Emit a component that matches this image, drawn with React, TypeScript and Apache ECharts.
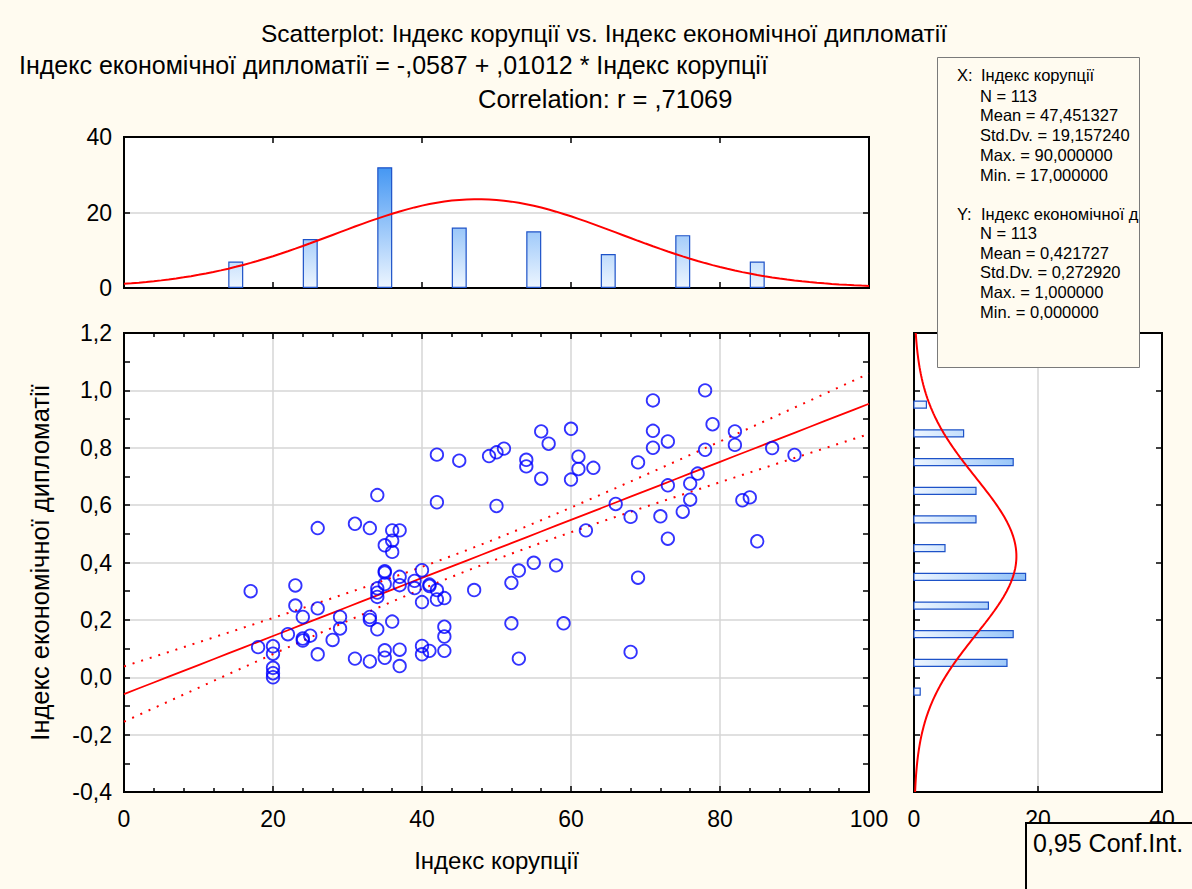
import React, { useEffect, useRef } from 'react';
import * as echarts from 'echarts';

// ---------- data ----------
const corruptionIndex: number[] = [
  17, 18, 20, 20, 20, 20, 20, 22, 23, 23, 24, 24, 24, 25, 26, 26, 26, 28, 29, 29,
  31, 31, 33, 33, 33, 33, 34, 34, 34, 34, 34, 35, 35, 35, 35, 35, 35, 36, 36, 36,
  36, 37, 37, 37, 37, 37, 39, 39, 40, 40, 40, 40, 41, 41, 41, 42, 42, 42, 42, 43,
  43, 43, 43, 45, 47, 49, 50, 50, 51, 52, 52, 53, 53, 54, 54, 55, 56, 56, 57, 58,
  59, 60, 60, 61, 61, 62, 63, 66, 68, 68, 69, 69, 71, 71, 71, 72, 73, 73, 73, 75,
  76, 76, 77, 78, 78, 79, 82, 82, 83, 84, 85, 87, 90,
];
const diplomacyIndex: number[] = [
  0.30, 0.105, 0.108, 0.082, 0.033, 0.014, 0.0, 0.15, 0.32, 0.25, 0.21, 0.135, 0.128, 0.145, 0.52, 0.24, 0.08, 0.13, 0.21, 0.17,
  0.535, 0.065, 0.52, 0.21, 0.20, 0.055, 0.635, 0.31, 0.295, 0.28, 0.167, 0.46, 0.37, 0.365, 0.325, 0.094, 0.068, 0.512, 0.476, 0.437,
  0.194, 0.512, 0.35, 0.321, 0.096, 0.039, 0.336, 0.311, 0.373, 0.262, 0.109, 0.08, 0.323, 0.318, 0.092, 0.776, 0.61, 0.304, 0.271, 0.276,
  0.176, 0.142, 0.092, 0.755, 0.304, 0.771, 0.784, 0.597, 0.797, 0.329, 0.188, 0.372, 0.065, 0.758, 0.735, 0.399, 0.857, 0.692, 0.814, 0.39,
  0.188, 0.866, 0.689, 0.769, 0.726, 0.512, 0.73, 0.604, 0.559, 0.088, 0.749, 0.347, 0.965, 0.859, 0.80, 0.561, 0.822, 0.669, 0.483, 0.577,
  0.675, 0.619, 0.71, 1.0, 0.793, 0.882, 0.857, 0.81, 0.617, 0.627, 0.474, 0.799, 0.775,
];

const xBinCenters: number[] = [15, 25, 35, 45, 55, 65, 75, 85];
const xBinCounts: number[] = [7, 13, 32, 16, 15, 9, 14, 7];
const yBinCenters: number[] = [0.95, 0.85, 0.75, 0.65, 0.55, 0.45, 0.35, 0.25, 0.15, 0.05, -0.05];
const yBinCounts: number[] = [2, 8, 16, 10, 10, 5, 18, 12, 16, 15, 1];

// statistics shown on the chart
const nObs = 113;
const meanX = 47.451327;
const sdX = 19.15724;
const meanY = 0.421727;
const sdY = 0.27292;
const regIntercept = -0.0587;
const regSlope = 0.01012;
const corrR = 0.71069;
const tCrit = 1.9816;
const xBinWidth = 10;
const yBinWidth = 0.1;

const titleText = 'Scatterplot: Індекс корупції vs. Індекс економічної дипломатії';
const equationText = 'Індекс економічної дипломатії = -,0587 + ,01012 * Індекс корупції';
const correlationText = 'Correlation: r = ,71069';
const xVarName = 'Індекс корупції';
const yVarName = 'Індекс економічної дипломатії';
const statsXLines: string[] = ['N = 113', 'Mean = 47,451327', 'Std.Dv. = 19,157240', 'Max. = 90,000000', 'Min. = 17,000000'];
const statsYLines: string[] = ['N = 113', 'Mean = 0,421727', 'Std.Dv. = 0,272920', 'Max. = 1,000000', 'Min. = 0,000000'];
const confText = '0,95 Conf.Int.';

// ---------- styling ----------
const BG = '#FFFBF0';
const FONT = "'Liberation Sans', Arial, sans-serif";
const RED = '#ff0000';
const BAR_BORDER = '#1d52c8';
const GRID_LINE = '#d6d6d6';

const commaFmt = (v: number) => (Math.round(v * 10) / 10).toFixed(1).replace('.', ',');

function axis(extra: any) {
  return {
    type: 'value',
    axisLine: { show: true, onZero: false, lineStyle: { color: '#000', width: 2 } },
    axisTick: { show: true, inside: true, length: 6, lineStyle: { color: '#000', width: 1.5 } },
    axisLabel: { show: false },
    splitLine: { show: false },
    ...extra,
  };
}

function buildOption() {
  const normalPdf = (v: number, m: number, s: number) =>
    Math.exp(-((v - m) ** 2) / (2 * s * s)) / (s * Math.sqrt(2 * Math.PI));
  const sxx = (nObs - 1) * sdX * sdX;
  const residSd = sdY * Math.sqrt(1 - corrR * corrR) * Math.sqrt((nObs - 1) / (nObs - 2));
  const ciHalf = (x: number) => tCrit * residSd * Math.sqrt(1 / nObs + (x - meanX) ** 2 / sxx);

  const fitLine: number[][] = [];
  const ciUpper: number[][] = [];
  const ciLower: number[][] = [];
  for (let x = 0; x <= 100; x += 2) {
    const y = regIntercept + regSlope * x;
    fitLine.push([x, y]);
    ciUpper.push([x, y + ciHalf(x)]);
    ciLower.push([x, y - ciHalf(x)]);
  }
  const topCurve: number[][] = [];
  for (let x = 0; x <= 100; x += 1) topCurve.push([x, nObs * xBinWidth * normalPdf(x, meanX, sdX)]);
  const rightCurve: number[][] = [];
  for (let y = -0.4; y <= 1.2001; y += 0.01) rightCurve.push([nObs * yBinWidth * normalPdf(y, meanY, sdY), y]);

  const topGrad = {
    type: 'linear', x: 0, y: 288, x2: 0, y2: 137, global: true,
    colorStops: [{ offset: 0, color: '#eef6ff' }, { offset: 1, color: '#1a7ff0' }],
  };
  const rightGrad = new echarts.graphic.LinearGradient(914, 0, 1162, 0,
    [{ offset: 0, color: '#eef6ff' }, { offset: 1, color: '#1a7ff0' }], true);

  const labelStyle = { show: true, fontSize: 23, color: '#000', fontFamily: FONT };

  const text = (t: string, x: number, y: number, size: number, align = 'left') => ({
    type: 'text', x, y, z: 100,
    style: { text: t, fill: '#000', fontSize: size, fontFamily: FONT, align, verticalAlign: 'middle' },
  });

  const statsTexts: any[] = [];
  statsTexts.push(text('X:', 957, 75, 16.5));
  statsTexts.push(text(xVarName, 981, 75, 16.5));
  statsXLines.forEach((s, i) => statsTexts.push(text(s, 980, 95.5 + i * 19.9, 16.5)));
  statsTexts.push(text('Y:', 957, 214, 16.5));
  statsTexts.push(text('Індекс економічної д', 981, 214, 16.5));
  statsYLines.forEach((s, i) => statsTexts.push(text(s, 980, 233 + i * 19.7, 16.5)));

  return {
    animation: false,
    backgroundColor: BG,
    textStyle: { fontFamily: FONT },
    grid: [
      { left: 124, top: 333, width: 745, height: 459, show: true, backgroundColor: '#fff', borderColor: '#000', borderWidth: 2 },
      { left: 124, top: 137, width: 745, height: 151, show: true, backgroundColor: '#fff', borderColor: '#000', borderWidth: 2 },
      { left: 914, top: 333, width: 248, height: 459, show: true, backgroundColor: '#fff', borderColor: '#000', borderWidth: 2 },
    ],
    xAxis: [
      axis({
        gridIndex: 0, min: 0, max: 100, interval: 20, position: 'bottom',
        minorTick: { show: true, splitNumber: 5, length: 4, lineStyle: { color: '#000', width: 1.5 } },
        axisLabel: { ...labelStyle, margin: 15, showMinLabel: true, showMaxLabel: true },
        splitLine: { show: true, lineStyle: { color: GRID_LINE, width: 1.5 } },
        name: xVarName, nameLocation: 'middle', nameGap: 56,
        nameTextStyle: { fontSize: 24, color: '#000', fontFamily: FONT },
      }),
      axis({
        gridIndex: 0, min: 0, max: 100, interval: 20, position: 'top',
        minorTick: { show: true, splitNumber: 5, length: 4, lineStyle: { color: '#000', width: 1.5 } },
      }),
      axis({ gridIndex: 1, min: 0, max: 100, interval: 20, position: 'bottom' }),
      axis({ gridIndex: 1, min: 0, max: 100, interval: 20, position: 'top' }),
      axis({
        gridIndex: 2, min: 0, max: 40, interval: 20, position: 'bottom',
        axisLabel: { ...labelStyle, margin: 15, showMinLabel: true, showMaxLabel: true },
        splitLine: { show: true, lineStyle: { color: GRID_LINE, width: 1.5 } },
      }),
      axis({ gridIndex: 2, min: 0, max: 40, interval: 20, position: 'top' }),
    ],
    yAxis: [
      axis({
        gridIndex: 0, min: -0.4, max: 1.2, interval: 0.2, position: 'left',
        minorTick: { show: true, splitNumber: 2, length: 6, lineStyle: { color: '#000', width: 1.5 } },
        axisLabel: { ...labelStyle, margin: 12, formatter: commaFmt, showMinLabel: true, showMaxLabel: true },
        splitLine: { show: true, lineStyle: { color: GRID_LINE, width: 1.5 } },
        name: yVarName, nameLocation: 'middle', nameGap: 71, nameRotate: 90,
        nameTextStyle: { fontSize: 25.5, color: '#000', fontFamily: FONT },
      }),
      axis({
        gridIndex: 0, min: -0.4, max: 1.2, interval: 0.2, position: 'right',
        minorTick: { show: true, splitNumber: 2, length: 6, lineStyle: { color: '#000', width: 1.5 } },
      }),
      axis({
        gridIndex: 1, min: 0, max: 40, interval: 20, position: 'left',
        axisLabel: { ...labelStyle, margin: 12, showMinLabel: true, showMaxLabel: true },
        splitLine: { show: true, lineStyle: { color: GRID_LINE, width: 1.5 } },
      }),
      axis({ gridIndex: 1, min: 0, max: 40, interval: 20, position: 'right' }),
      axis({ gridIndex: 2, min: -0.4, max: 1.2, interval: 0.2, position: 'left' }),
      axis({ gridIndex: 2, min: -0.4, max: 1.2, interval: 0.2, position: 'right' }),
    ],
    series: [
      {
        type: 'line', xAxisIndex: 0, yAxisIndex: 0, data: ciUpper, symbol: 'none', silent: true,
        lineStyle: { color: RED, width: 2, type: [2, 7] }, z: 3,
      },
      {
        type: 'line', xAxisIndex: 0, yAxisIndex: 0, data: ciLower, symbol: 'none', silent: true,
        lineStyle: { color: RED, width: 2, type: [2, 7] }, z: 3,
      },
      {
        type: 'line', xAxisIndex: 0, yAxisIndex: 0, data: fitLine, symbol: 'none', silent: true,
        lineStyle: { color: RED, width: 1.8 }, z: 3,
      },
      {
        type: 'scatter', xAxisIndex: 0, yAxisIndex: 0,
        data: corruptionIndex.map((x, i) => [x, diplomacyIndex[i]]),
        symbol: 'circle', symbolSize: 12.5,
        itemStyle: { color: 'rgba(0,0,0,0)', borderColor: '#0000ff', borderWidth: 1.8 }, z: 4,
      },
      {
        type: 'bar', xAxisIndex: 2, yAxisIndex: 2,
        data: xBinCenters.map((c, i) => [c, xBinCounts[i]]),
        barWidth: 15,
        itemStyle: { color: topGrad, borderColor: BAR_BORDER, borderWidth: 1.2 },
      },
      {
        type: 'line', xAxisIndex: 2, yAxisIndex: 2, data: topCurve, symbol: 'none', silent: true,
        lineStyle: { color: RED, width: 2 }, z: 4,
      },
      {
        type: 'custom', coordinateSystem: 'cartesian2d', xAxisIndex: 4, yAxisIndex: 4,
        data: yBinCenters.map((c, i) => [yBinCounts[i], c]),
        encode: { x: 0, y: 1 },
        renderItem: (params: any, api: any) => {
          const count = api.value(0);
          const center = api.value(1);
          const p0 = api.coord([0, center]);
          const p1 = api.coord([count, center]);
          const h = 7;
          return {
            type: 'rect',
            shape: { x: p0[0], y: p0[1] - h / 2, width: p1[0] - p0[0], height: h },
            style: { fill: rightGrad, stroke: BAR_BORDER, lineWidth: 1.2 },
          };
        },
      },
      {
        type: 'line', xAxisIndex: 4, yAxisIndex: 4, data: rightCurve, symbol: 'none', silent: true,
        lineStyle: { color: RED, width: 2 }, z: 4,
      },
    ],
    graphic: [
      text(titleText, 604, 33, 24.5, 'center'),
      text(equationText, 19, 65, 25),
      text(correlationText, 478, 99, 25.5),
      {
        type: 'rect', z: 99,
        shape: { x: 937.5, y: 57.5, width: 202, height: 310 },
        style: { fill: BG, stroke: '#7a7a7a', lineWidth: 1 },
      },
      ...statsTexts,
      { type: 'rect', z: 101, shape: { x: 1140, y: 200, width: 52, height: 30 }, style: { fill: BG } },
      {
        type: 'rect', z: 99,
        shape: { x: 1026, y: 823, width: 200, height: 100 },
        style: { fill: BG, stroke: '#000', lineWidth: 2 },
      },
      text(confText, 1033, 843, 25),
    ],
  };
}

export default function App() {
  const ref = useRef<HTMLDivElement>(null);
  useEffect(() => {
    document.body.style.margin = '0';
    const chart = echarts.init(ref.current as HTMLDivElement, null, { renderer: 'svg' });
    chart.setOption(buildOption() as any);
    return () => chart.dispose();
  }, []);
  return <div ref={ref} style={{ width: 1192, height: 889, background: BG }} />;
}
